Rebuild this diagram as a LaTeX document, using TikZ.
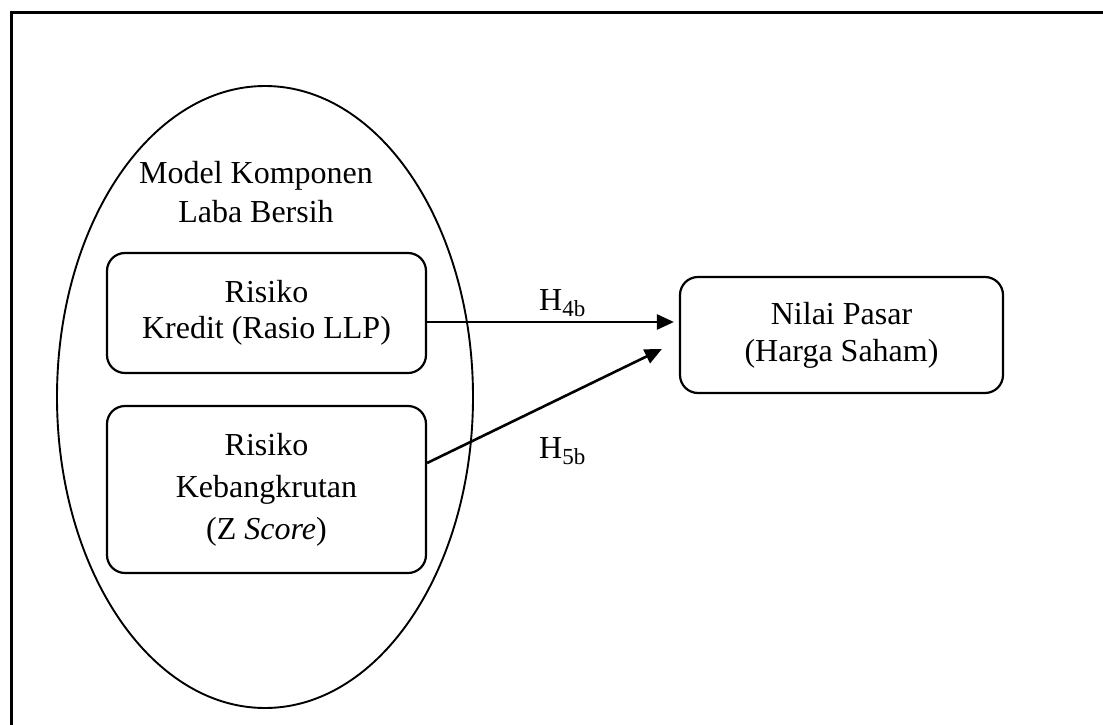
\documentclass[tikz,border=0pt]{standalone}
\usepackage{fontspec}
\setmainfont{Liberation Serif}
\usetikzlibrary{arrows.meta,shapes.geometric}
\newcommand{\hsub}[2]{#1\raisebox{-6pt}{\fontsize{23}{23}\selectfont #2}}
\begin{document}
\begin{tikzpicture}[x=1pt,y=-1pt,
  boxstyle/.style={draw=black, line width=2.2pt, rounded corners=18pt, align=center, inner sep=0pt},
  ellstyle/.style={draw=black, line width=1.9pt, ellipse, inner sep=0pt},
  arr/.style={line width=2.6pt, -{Triangle[length=17pt,width=15pt]}},
  lab/.style={anchor=base west, inner sep=0pt, font=\fontsize{32}{36}\selectfont},
  frame/.style={line width=3pt}]
\useasboundingbox (0,0) rectangle (1103,725);
\clip (0,0) rectangle (1103,725);
\coordinate (fbl) at (11,760);
\coordinate (ftl) at (11,13);
\coordinate (ftr) at (1140,13);
\draw[frame] (fbl) -- (ftl) -- (ftr);
\node[ellstyle, minimum width=416pt, minimum height=622pt] (ell) at (265,397) {};
\node[align=center, inner sep=0pt, font=\fontsize{32}{39}\selectfont] (title) at (256,192) {Model Komponen\\Laba Bersih};
\node[boxstyle, minimum width=319pt, minimum height=120pt, font=\fontsize{32}{36}\selectfont] (kredit) at (266.5,313) {Risiko\\Kredit (Rasio LLP)};
\node[boxstyle, minimum width=319pt, minimum height=167pt, font=\fontsize{32}{42}\selectfont] (bangkrut) at (266.5,489.5) {Risiko\\Kebangkrutan\\(Z \textit{Score})};
\node[boxstyle, minimum width=323pt, minimum height=116pt, font=\fontsize{32}{37}\selectfont] (nilai) at (841.5,335) {Nilai Pasar\\(Harga Saham)};
\draw[arr] ([yshift=-9pt]kredit.east) -- ([xshift=-5pt,yshift=13pt]nilai.west);
\draw[arr] ([yshift=26.5pt]bangkrut.east) -- ([xshift=-17pt,yshift=-14pt]nilai.west);
\node[lab] (h4) at (539,310) {\hsub{H}{4b}};
\node[lab] (h5) at (539,458) {\hsub{H}{5b}};
\end{tikzpicture}
\end{document}
